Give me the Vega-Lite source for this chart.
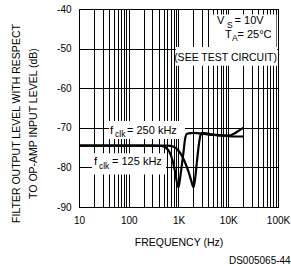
{
  "$schema": "https://vega.github.io/schema/vega-lite/v6.json",
  "width": 199,
  "height": 198,
  "autosize": {"type": "none"},
  "padding": {"left": 79, "top": 9, "right": 13, "bottom": 59},
  "title": {"text": "DS005065-44", "orient": "bottom", "anchor": "end", "font": "Liberation Sans", "fontSize": 10, "fontWeight": "normal", "color": "black", "offset": 8, "dx": 1},
  "config": {
    "view": {"stroke": "black", "strokeWidth": 1},
    "font": "Liberation Sans",
    "text": {"font": "Liberation Sans", "fontSize": 11, "align": "left", "baseline": "middle", "color": "black", "fontWeight": "normal"},
    "axis": {"domain": false, "ticks": false, "grid": true, "gridColor": "black", "gridOpacity": 1, "gridWidth": 1, "labelFont": "Liberation Sans", "labelFontSize": 10, "labelFontWeight": "normal", "labelColor": "black", "titleFont": "Liberation Sans", "titleFontSize": 10.5, "titleFontWeight": "normal", "titleColor": "black", "labelOverlap": false}
  },
  "data": {"values": [{}]},
  "datasets": {
    "curves": [
      {"clock": "125 kHz", "freq": 10, "db": -74.5},
      {"clock": "125 kHz", "freq": 100, "db": -74.5},
      {"clock": "125 kHz", "freq": 300, "db": -74.5},
      {"clock": "125 kHz", "freq": 450, "db": -74.6},
      {"clock": "125 kHz", "freq": 550, "db": -75.0},
      {"clock": "125 kHz", "freq": 650, "db": -76.0},
      {"clock": "125 kHz", "freq": 750, "db": -78.0},
      {"clock": "125 kHz", "freq": 850, "db": -81.0},
      {"clock": "125 kHz", "freq": 950, "db": -84.3},
      {"clock": "125 kHz", "freq": 1000, "db": -85.0},
      {"clock": "125 kHz", "freq": 1070, "db": -83.0},
      {"clock": "125 kHz", "freq": 1150, "db": -80.0},
      {"clock": "125 kHz", "freq": 1250, "db": -76.5},
      {"clock": "125 kHz", "freq": 1350, "db": -73.0},
      {"clock": "125 kHz", "freq": 1450, "db": -71.6},
      {"clock": "125 kHz", "freq": 1600, "db": -71.4},
      {"clock": "125 kHz", "freq": 2000, "db": -71.3},
      {"clock": "125 kHz", "freq": 3000, "db": -71.5},
      {"clock": "125 kHz", "freq": 5000, "db": -71.8},
      {"clock": "125 kHz", "freq": 8000, "db": -72.0},
      {"clock": "125 kHz", "freq": 10000, "db": -72.0},
      {"clock": "125 kHz", "freq": 13000, "db": -71.5},
      {"clock": "125 kHz", "freq": 16000, "db": -70.8},
      {"clock": "125 kHz", "freq": 20000, "db": -70.0},
      {"clock": "250 kHz", "freq": 10, "db": -74.5},
      {"clock": "250 kHz", "freq": 100, "db": -74.5},
      {"clock": "250 kHz", "freq": 600, "db": -74.5},
      {"clock": "250 kHz", "freq": 800, "db": -74.8},
      {"clock": "250 kHz", "freq": 1000, "db": -75.8},
      {"clock": "250 kHz", "freq": 1200, "db": -77.3},
      {"clock": "250 kHz", "freq": 1400, "db": -79.2},
      {"clock": "250 kHz", "freq": 1600, "db": -81.2},
      {"clock": "250 kHz", "freq": 1800, "db": -83.3},
      {"clock": "250 kHz", "freq": 2000, "db": -85.0},
      {"clock": "250 kHz", "freq": 2150, "db": -83.0},
      {"clock": "250 kHz", "freq": 2350, "db": -78.5},
      {"clock": "250 kHz", "freq": 2550, "db": -74.5},
      {"clock": "250 kHz", "freq": 2750, "db": -72.0},
      {"clock": "250 kHz", "freq": 3000, "db": -71.3},
      {"clock": "250 kHz", "freq": 4000, "db": -71.5},
      {"clock": "250 kHz", "freq": 6000, "db": -71.8},
      {"clock": "250 kHz", "freq": 9000, "db": -72.0},
      {"clock": "250 kHz", "freq": 13000, "db": -72.2},
      {"clock": "250 kHz", "freq": 20000, "db": -72.2}
    ]
  },
  "layer": [
    {
      "data": {"name": "curves"},
      "mark": {"type": "line", "color": "black", "strokeWidth": 2.2, "interpolate": "monotone", "opacity": 0},
      "encoding": {
        "x": {
          "field": "freq", "type": "quantitative",
          "scale": {"type": "log", "domain": [10, 100000], "nice": false},
          "axis": {
            "title": "FREQUENCY (Hz)",
            "values": [10, 20, 30, 40, 50, 60, 70, 80, 90, 100, 200, 300, 400, 500, 600, 700, 800, 900, 1000, 2000, 3000, 4000, 5000, 6000, 7000, 8000, 9000, 10000, 20000, 30000, 40000, 50000, 60000, 70000, 80000, 90000, 100000],
            "labelExpr": "datum.value == 10 ? '10' : datum.value == 100 ? '100' : datum.value == 1000 ? '1K' : datum.value == 10000 ? '10K' : datum.value == 100000 ? '100K' : ''",
            "labelOverlap": false, "labelFlush": false, "labelBound": false,
            "labelPadding": 8, "titlePadding": 12
          }
        },
        "y": {
          "field": "db", "type": "quantitative",
          "scale": {"domain": [-90, -40], "nice": false, "zero": false},
          "axis": {
            "title": ["FILTER OUTPUT LEVEL WITH RESPECT", "TO OP-AMP INPUT LEVEL (dB)"],
            "tickCount": 5,
            "labelExpr": "datum.value == -40 ? '-40' : datum.value == -50 ? '-50' : datum.value == -60 ? '-60' : datum.value == -70 ? '-70' : datum.value == -80 ? '-80' : '-90'",
            "labelOverlap": false, "labelFlush": false, "labelBound": false,
            "labelPadding": 8, "titlePadding": 18, "titleLineHeight": 17, "titleY": 114
          }
        },
        "detail": {"field": "clock", "type": "nominal"}
      }
    },
    {
      "mark": {"type": "rect", "color": "white"},
      "encoding": {
        "x": {"datum": 4900, "type": "quantitative"},
        "x2": {"datum": 93000},
        "y": {"datum": -41.4, "type": "quantitative"},
        "y2": {"datum": -50.8}
      }
    },
    {
      "mark": {"type": "rect", "color": "white"},
      "encoding": {
        "x": {"datum": 880, "type": "quantitative"},
        "x2": {"datum": 96000},
        "y": {"datum": -49.6, "type": "quantitative"},
        "y2": {"datum": -54.3}
      }
    },
    {
      "mark": {"type": "rect", "color": "white"},
      "encoding": {
        "x": {"datum": 40, "type": "quantitative"},
        "x2": {"datum": 1350},
        "y": {"datum": -68.3, "type": "quantitative"},
        "y2": {"datum": -72.8}
      }
    },
    {
      "mark": {"type": "rect", "color": "white"},
      "encoding": {
        "x": {"datum": 18.2, "type": "quantitative"},
        "x2": {"datum": 561},
        "y": {"datum": -76.4, "type": "quantitative"},
        "y2": {"datum": -81.8}
      }
    },
    {
      "data": {"name": "curves"},
      "mark": {"type": "line", "color": "black", "strokeWidth": 2.2, "interpolate": "monotone"},
      "encoding": {
        "x": {"field": "freq", "type": "quantitative"},
        "y": {"field": "db", "type": "quantitative"},
        "detail": {"field": "clock", "type": "nominal"}
      }
    },
    {"mark": {"type": "text", "fill": "black", "fontSize": 11.5, "text": "f"}, "encoding": {"x": {"datum": 42, "type": "quantitative"}, "y": {"datum": -70.8, "type": "quantitative"}}},
    {"mark": {"type": "text", "fill": "black", "fontSize": 8.5, "text": "clk"}, "encoding": {"x": {"datum": 52.9, "type": "quantitative"}, "y": {"datum": -71.6, "type": "quantitative"}}},
    {"mark": {"type": "text", "fill": "black", "text": "= 250 kHz"}, "encoding": {"x": {"datum": 92.2, "type": "quantitative"}, "y": {"datum": -70.8, "type": "quantitative"}}},
    {"mark": {"type": "text", "fill": "black", "fontSize": 11.5, "text": "f"}, "encoding": {"x": {"datum": 20, "type": "quantitative"}, "y": {"datum": -78.6, "type": "quantitative"}}},
    {"mark": {"type": "text", "fill": "black", "fontSize": 8.5, "text": "clk"}, "encoding": {"x": {"datum": 25.2, "type": "quantitative"}, "y": {"datum": -79.6, "type": "quantitative"}}},
    {"mark": {"type": "text", "fill": "black", "text": "= 125 kHz"}, "encoding": {"x": {"datum": 46.1, "type": "quantitative"}, "y": {"datum": -78.6, "type": "quantitative"}}},
    {"mark": {"type": "text", "fill": "black", "text": "V"}, "encoding": {"x": {"datum": 5943, "type": "quantitative"}, "y": {"datum": -42.95, "type": "quantitative"}}},
    {"mark": {"type": "text", "fill": "black", "fontSize": 8.5, "text": "S"}, "encoding": {"x": {"datum": 9400, "type": "quantitative"}, "y": {"datum": -44.0, "type": "quantitative"}}},
    {"mark": {"type": "text", "fill": "black", "text": "= 10V"}, "encoding": {"x": {"datum": 13400, "type": "quantitative"}, "y": {"datum": -42.95, "type": "quantitative"}}},
    {"mark": {"type": "text", "fill": "black", "text": "T"}, "encoding": {"x": {"datum": 8610, "type": "quantitative"}, "y": {"datum": -46.6, "type": "quantitative"}}},
    {"mark": {"type": "text", "fill": "black", "fontSize": 8.5, "text": "A"}, "encoding": {"x": {"datum": 11890, "type": "quantitative"}, "y": {"datum": -47.4, "type": "quantitative"}}},
    {"mark": {"type": "text", "fill": "black", "text": "= 25°C"}, "encoding": {"x": {"datum": 15350, "type": "quantitative"}, "y": {"datum": -46.6, "type": "quantitative"}}},
    {"mark": {"type": "text", "fill": "black", "fontSize": 10.5, "text": "(SEE TEST CIRCUIT)", "align": "right", "dx": -1}, "encoding": {"x": {"datum": 100000, "type": "quantitative"}, "y": {"datum": -52.4, "type": "quantitative"}}}
  ]
}
